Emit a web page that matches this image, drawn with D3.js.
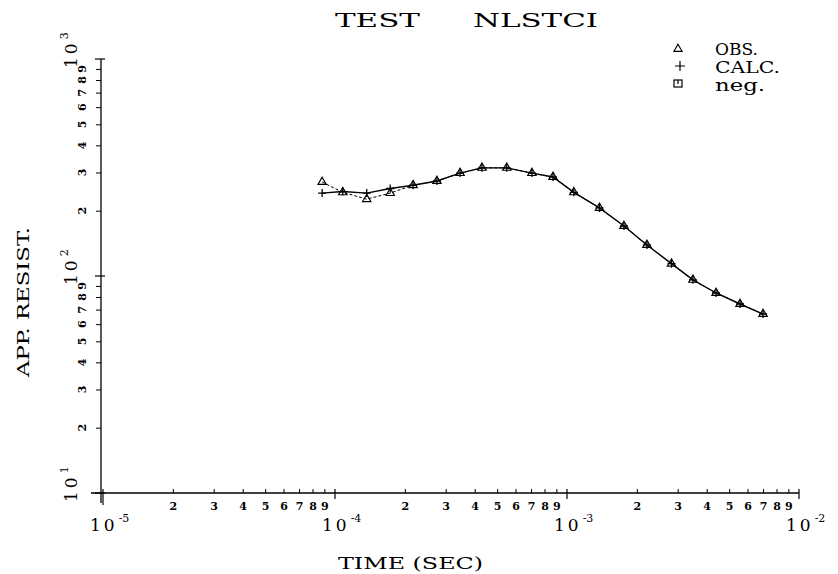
<!DOCTYPE html>
<html><head><meta charset="utf-8">
<script src="https://cdn.jsdelivr.net/npm/d3@7/dist/d3.min.js"></script>
<style>
html,body{margin:0;padding:0;background:#fff;}
svg text{font-family:"DejaVu Serif","Liberation Serif",serif;fill:#000;}
</style></head>
<body><svg id="c" width="838" height="574"></svg>
<script>
// ---- data ----
const times = [8.8e-5, 1.08e-4, 1.37e-4, 1.73e-4, 2.17e-4, 2.75e-4, 3.46e-4, 4.3e-4, 5.5e-4, 7.06e-4,
               8.7e-4, 1.07e-3, 1.38e-3, 1.76e-3, 2.21e-3, 2.82e-3, 3.49e-3, 4.39e-3, 5.57e-3, 7.0e-3];
const obs  = [271, 243, 226, 241, 262, 274, 298, 315, 315, 298, 286, 243, 206, 170, 139, 114, 96, 83.5, 74.3, 66.8];
const calc = [241, 245, 241, 253, 262, 274, 298, 315, 315, 298, 286, 243, 206, 170, 139, 114, 96, 83.5, 74.3, 66.8];
const xDecades = [1e-5, 1e-4, 1e-3, 1e-2];
const xDecadeExp = ["-5", "-4", "-3", "-2"];
const yDecades = [10, 100, 1000];
const yDecadeExp = ["1", "2", "3"];
const minorDigits = [2, 3, 4, 5, 6, 7, 8, 9];
const legendLabels = ["OBS.", "CALC.", "neg."];
const titleParts = ["TEST", "NLSTCI"];
const xTitle = "TIME (SEC)";
const yTitle = "APP. RESIST.";

// ---- scales ----
const x = d3.scaleLog().domain([1e-5, 1e-2]).range([103, 799]);
const y = d3.scaleLog().domain([10, 1000]).range([493, 59]);
const svg = d3.select("#c");

const xMinor = [], yMinor = [];
xDecades.slice(0, -1).forEach(d => minorDigits.forEach(k => xMinor.push({v: d * k, k})));
yDecades.slice(0, -1).forEach(d => minorDigits.forEach(k => yMinor.push({v: d * k, k})));

// ---- x axis ----
const gx = svg.append("g").attr("transform", `translate(0,${y(10)})`);
gx.call(d3.axisBottom(x).tickValues(xMinor.map(d => d.v)).tickSizeInner(-4).tickSizeOuter(0)
  .tickPadding(9).tickFormat((v, i) => xMinor[i].k));
gx.select(".domain").attr("d", `M${x(1e-5) - 12},0H${x(1e-2)}`).attr("stroke", "#000").attr("stroke-width", 1.3);
gx.selectAll(".tick text").attr("font-size", 11).attr("font-weight", "bold")
  .style("font-family", "DejaVu Serif");
gx.selectAll(".tick line").attr("stroke-width", 1);
gx.selectAll(".dt").data(xDecades).enter().append("line").attr("class", "dt")
  .attr("x1", d => x(d)).attr("x2", d => x(d)).attr("y1", -4).attr("y2", d => d === 1e-5 ? 12 : 6)
  .attr("stroke", "#000").attr("stroke-width", 1.2);
const xl = svg.selectAll(".xdl").data(xDecades).enter().append("text").attr("class", "xdl")
  .attr("x", d => x(d) - 13).attr("y", 531).attr("font-size", 17);
xl.append("tspan").text("10").attr("letter-spacing", 3);
xl.append("tspan").text((d, i) => xDecadeExp[i]).attr("font-size", 11).attr("dy", -9).attr("dx", 1);

// ---- y axis ----
const gy = svg.append("g").attr("transform", `translate(${x(1e-5) - 2},0)`);
gy.call(d3.axisLeft(y).tickValues(yMinor.map(d => d.v)).tickSizeInner(5).tickSizeOuter(0).tickFormat(""));
gy.select(".domain").attr("d", `M0,${y(10) + 10}V${y(1000)}`).attr("stroke", "#000").attr("stroke-width", 1.3);
gy.selectAll(".dt").data(yDecades).enter().append("line").attr("class", "dt")
  .attr("x1", -6).attr("x2", 4).attr("y1", d => y(d)).attr("y2", d => y(d))
  .attr("stroke", "#000").attr("stroke-width", 1.2);
svg.selectAll(".ymn").data(yMinor).enter().append("text").attr("class", "ymn")
  .attr("transform", d => `translate(86,${y(d.v)}) rotate(-90)`)
  .attr("text-anchor", "middle").attr("font-size", 11).attr("font-weight", "bold").text(d => d.k);
const yl = svg.selectAll(".ydl").data(yDecades).enter().append("text").attr("class", "ydl")
  .attr("transform", d => `translate(77,${y(d) + 9}) rotate(-90)`).attr("font-size", 17);
yl.append("tspan").text("10").attr("letter-spacing", 3);
yl.append("tspan").text((d, i) => yDecadeExp[i]).attr("font-size", 11).attr("dy", -9).attr("dx", 1);

// ---- titles ----
svg.append("text").attr("x", 335).attr("y", 27).attr("font-size", 19)
  .attr("textLength", 85).attr("lengthAdjust", "spacingAndGlyphs").text(titleParts[0]);
svg.append("text").attr("x", 473).attr("y", 27).attr("font-size", 19)
  .attr("textLength", 125).attr("lengthAdjust", "spacingAndGlyphs").text(titleParts[1]);
svg.append("text").attr("x", 338).attr("y", 569).attr("font-size", 17)
  .attr("textLength", 145).attr("lengthAdjust", "spacingAndGlyphs").text(xTitle);
svg.append("text").attr("transform", "translate(29,377) rotate(-90)").attr("font-size", 17)
  .attr("textLength", 150).attr("lengthAdjust", "spacingAndGlyphs").text(yTitle);

// ---- lines ----
const line = d3.line().x(d => x(d[0])).y(d => y(d[1]));
svg.append("path").datum(times.map((t, i) => [t, calc[i]])).attr("d", line)
  .attr("fill", "none").attr("stroke", "#000").attr("stroke-width", 1.4);
svg.append("path").datum(times.map((t, i) => [t, obs[i]])).attr("d", line)
  .attr("fill", "none").attr("stroke", "#000").attr("stroke-width", 1).attr("stroke-dasharray", "3,2");

// ---- markers ----
const tri = d3.symbol().type(d3.symbolTriangle).size(30);
svg.selectAll(".ob").data(times).enter().append("path").attr("class", "ob")
  .attr("d", tri).attr("transform", (d, i) => `translate(${x(d)},${y(obs[i])})`)
  .attr("fill", "none").attr("stroke", "#000").attr("stroke-width", 1.2);
svg.selectAll(".ca").data(times).enter().append("path").attr("class", "ca")
  .attr("d", "M-4,0H4M0,-4V4").attr("transform", (d, i) => `translate(${x(d)},${y(calc[i])})`)
  .attr("fill", "none").attr("stroke", "#000").attr("stroke-width", 1.3);

// ---- legend ----
const lg = svg.append("g");
const ly = [52, 70, 88];
lg.append("path").attr("d", tri).attr("transform", `translate(678,${ly[0] - 3})`).attr("fill", "none").attr("stroke", "#000").attr("stroke-width", 1.1);
lg.append("path").attr("d", "M-5,0H5M0,-5V5").attr("transform", `translate(680,${ly[1] - 4})`).attr("stroke", "#000").attr("stroke-width", 1.2);
lg.append("rect").attr("x", 674).attr("y", ly[2] - 8).attr("width", 8).attr("height", 7).attr("fill", "none").attr("stroke", "#000").attr("stroke-width", 1.2);
lg.append("path").attr("d", `M678,${ly[2] - 8}V${ly[2] - 4}`).attr("stroke", "#000").attr("stroke-width", 1.2);
lg.selectAll(".lt").data(legendLabels).enter().append("text").attr("class", "lt")
  .attr("x", 715).attr("y", (d, i) => ly[i] + 3).attr("font-size", 16)
  .attr("textLength", (d, i) => [43, 65, 50][i]).attr("lengthAdjust", "spacingAndGlyphs").text(d => d);
</script></body></html>
